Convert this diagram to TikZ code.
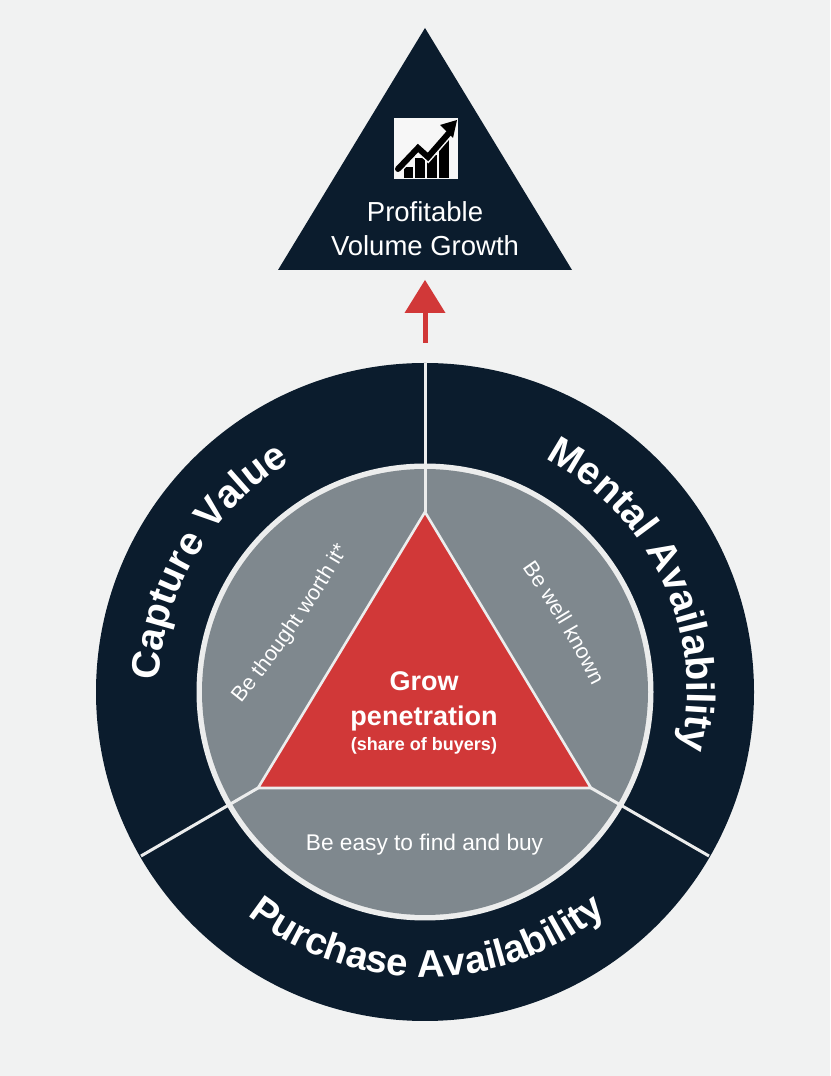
\documentclass[tikz,border=0pt]{standalone}
\usepackage{fontspec}
\setmainfont{Liberation Sans}
\usetikzlibrary{decorations.text}
\definecolor{bgc}{HTML}{F1F2F2}
\definecolor{navyc}{HTML}{0B1C2D}
\definecolor{greyc}{HTML}{7F888E}
\definecolor{redc}{HTML}{D13838}
\definecolor{ringc}{HTML}{ECEDED}
\tikzset{
  x=1pt,y=1pt,
  divider/.style={draw=ringc,line width=3pt},
  navyface/.style={fill=navyc,draw=none},
  bigcurve/.style={decorate,decoration={text along path,text align=center,
     text={|\fontsize{39.5}{40}\bfseries\color{white}|#1}}},
  bottomcurve/.style={decorate,decoration={text along path,text align=center,
     text={|\fontsize{38.5}{39}\bfseries\color{white}|#1}}},
  smallcurve/.style={decorate,decoration={text along path,text align=center,
     text={|\fontsize{21.5}{22}\selectfont\color{white}|#1}}},
  label/.style={text=white,align=center,inner sep=0pt},
}
\begin{document}
\begin{tikzpicture}
\useasboundingbox (0,0) rectangle (830,1076);
\fill[bgc] (0,0) rectangle (830,1076);
\coordinate (c) at (425,384);
% goal triangle
\path[navyface] (425,1048) -- (572,806) -- (278,806) -- cycle;
\coordinate (arrowtop) at (425,796);
\coordinate (arrowfoot) at (425,733);
\coordinate (arrowneck) at (425,763);
\fill[redc] (arrowtop) -- (445.5,763) -- (404.5,763) -- cycle;
\draw[redc,line width=5pt] (arrowneck) -- (arrowfoot);
% icon (drawn in picture coordinates)
\node[fill=white!97!black,minimum width=64pt,minimum height=61pt,inner sep=0pt] (icon) at (426,927) {};
\fill[black] (403.5,898) rectangle (413,909);
\fill[black] (415,898) rectangle (425,918);
\fill[black] (427,898) rectangle (437,921);
\fill[black] (438.5,898) rectangle (449,936);
\draw[white!97!black,line width=9pt] (398,907) -- (418,928) -- (428,919) -- (449,943);
\draw[black,line width=6pt,line cap=round] (398,907) -- (418,928) -- (428,919) -- (449,943);
\fill[black] (457,956) -- (440,951) -- (453,938) -- cycle;
\node[label,font=\fontsize{27.5}{34}\selectfont] (goal) at (425,847.5) {Profitable\\Volume Growth};
% outer disc
\fill[navyc] (c) circle (329);
\fill[ringc] (c) circle (228.5);
\fill[greyc] (c) circle (223);
% triangle
\coordinate (apex) at (425,564);
\coordinate (bl) at (258,288);
\coordinate (br) at (591,288);
\coordinate (topd) at (425,713);
\coordinate (ld) at (141,220);
\coordinate (rd) at (709,220);
\draw[divider] (topd) -- (apex);
\draw[divider] (ld) -- (bl);
\draw[divider] (rd) -- (br);
\path[fill=redc,draw=ringc,line width=2.6pt,line join=miter] (apex) -- (br) -- (bl) -- cycle;
% curved texts
\path[bigcurve={Capture Value}] (c) ++(194:266) arc (194:104:266);
\path[bigcurve={Mental Availability}] (c) ++(75:262) arc (75:-25:262);
\path[bottomcurve={Purchase Availability}] (c) ++(-135:285) arc (-135:-44:285);
\coordinate (bta) at (243,374);
\coordinate (btb) at (347,525);
\coordinate (bwa) at (520,511);
\coordinate (bwb) at (594,387);
\path[smallcurve={Be thought worth it*}] (bta) to[bend right=4] (btb);
\path[smallcurve={Be well known}] (bwa) to[bend left=4] (bwb);
% centre text
\node[label,font=\fontsize{27}{35}\bfseries] (grow) at (424,375) {Grow\\penetration};
\node[label,font=\fontsize{18}{20}\bfseries] (share) at (424,330) {(share of buyers)};
\node[label,font=\fontsize{22.7}{24}\selectfont] (easy) at (424.5,231) {Be easy to find and buy};
\end{tikzpicture}
\end{document}
